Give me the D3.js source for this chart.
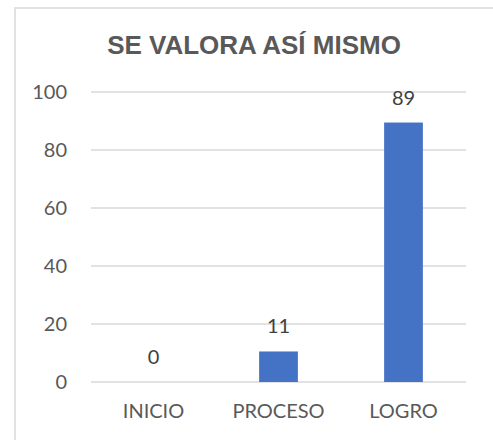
<!DOCTYPE html>
<html>
<head>
<meta charset="utf-8">
<script src="https://cdn.jsdelivr.net/npm/d3@7"></script>
<style>
  html, body { margin: 0; padding: 0; background: #fff; overflow: hidden; }
  svg { display: block; }
</style>
</head>
<body>
<svg id="chart"></svg>
<script>
const categories = ['INICIO', 'PROCESO', 'LOGRO'];
const values = [0, 10.53, 89.47];
const yTicks = [0, 20, 40, 60, 80, 100];
const title = 'SE VALORA ASÍ MISMO';

const width = 493;
const height = 440;
const margin = { top: 92, right: 27, bottom: 58, left: 91 };

const svg = d3.select('#chart')
    .attr('width', width)
    .attr('height', height);

// chart area frame (cropped on right and bottom)
svg.append('rect')
    .attr('x', 15)
    .attr('y', 8)
    .attr('width', width + 20)
    .attr('height', height + 20)
    .attr('fill', '#fff')
    .attr('stroke', '#d9d9d9')
    .attr('stroke-width', 1.5);

const x = d3.scaleBand()
    .domain(categories)
    .range([margin.left, width - margin.right])
    .paddingInner(0.69)
    .paddingOuter(0.345);

const y = d3.scaleLinear()
    .domain([0, 100])
    .range([height - margin.bottom, margin.top]);

svg.append('text')
    .attr('x', 254)
    .attr('y', 54)
    .attr('text-anchor', 'middle')
    .attr('font-family', '"Liberation Sans", Arial, sans-serif')
    .attr('font-weight', 'bold')
    .attr('font-size', 26)
    .attr('fill', '#595959')
    .text(title);

// gridlines
svg.append('g')
    .selectAll('line')
    .data(yTicks)
    .enter()
    .append('line')
    .attr('x1', margin.left)
    .attr('x2', width - margin.right)
    .attr('y1', d => y(d))
    .attr('y2', d => y(d))
    .attr('stroke', '#d9d9d9')
    .attr('stroke-width', 1.5);

// y axis labels
const yAxis = svg.append('g')
    .attr('transform', `translate(${margin.left},0)`)
    .call(d3.axisLeft(y).tickValues(yTicks).tickSize(0).tickPadding(24));
yAxis.select('.domain').remove();
yAxis.selectAll('text')
    .attr('font-family', 'Lato, Carlito, Calibri, sans-serif')
    .attr('font-size', 20)
    .attr('fill', '#595959');

// x axis labels
const xAxis = svg.append('g')
    .attr('transform', `translate(0,${height - margin.bottom})`)
    .call(d3.axisBottom(x).tickSize(0).tickPadding(22));
xAxis.select('.domain').remove();
xAxis.selectAll('text')
    .attr('font-family', 'Lato, Carlito, Calibri, sans-serif')
    .attr('font-size', 20)
    .attr('fill', '#595959');

// bars
svg.append('g')
    .selectAll('rect')
    .data(values)
    .enter()
    .append('rect')
    .attr('x', (d, i) => x(categories[i]))
    .attr('y', d => y(d))
    .attr('width', x.bandwidth())
    .attr('height', d => y(0) - y(d))
    .attr('fill', '#4472c4');

// data labels
const fmt = d3.format('.0f');
svg.append('g')
    .selectAll('text')
    .data(values)
    .enter()
    .append('text')
    .attr('x', (d, i) => x(categories[i]) + x.bandwidth() / 2)
    .attr('y', d => y(d) - 18)
    .attr('text-anchor', 'middle')
    .attr('font-family', 'Lato, Carlito, Calibri, sans-serif')
    .attr('font-size', 20)
    .attr('fill', '#404040')
    .text(d => fmt(d));
</script>
</body>
</html>
